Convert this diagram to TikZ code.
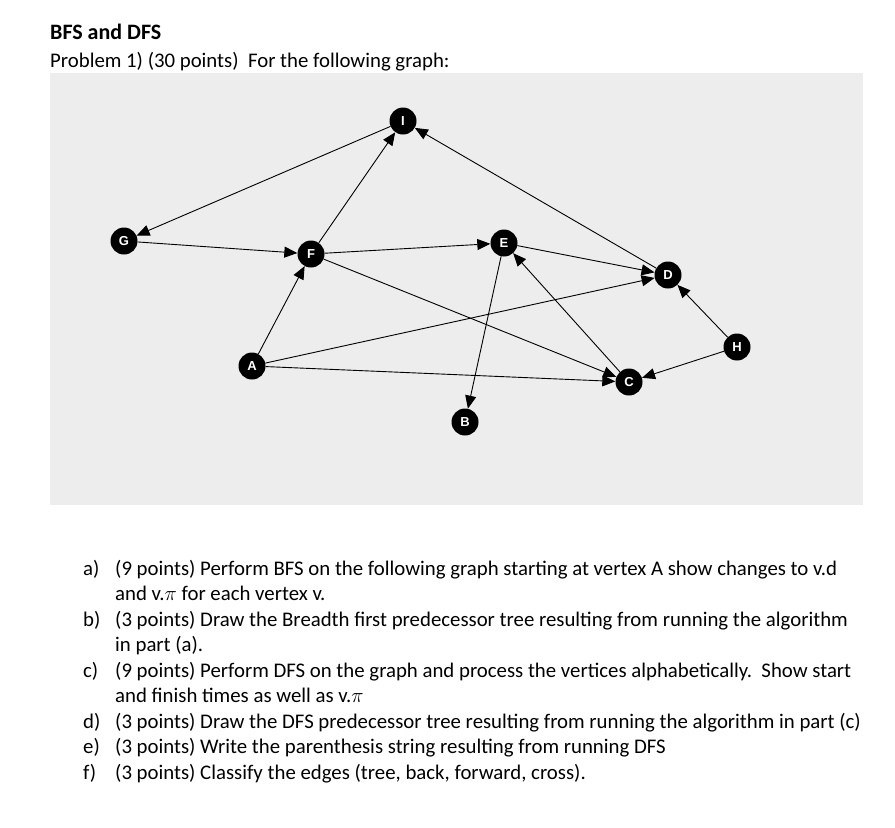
\documentclass[tikz,border=0pt]{standalone}
\usepackage{fontspec}
\setmainfont{Carlito}
\newfontfamily\vfont{Liberation Sans}
\usetikzlibrary{arrows.meta}
\begin{document}
\begin{tikzpicture}[x=1pt,y=-1pt,
  vtx/.style={circle,fill=black,text=white,font=\vfont\bfseries\fontsize{13}{13}\selectfont,minimum size=27pt,inner sep=0pt},
  edge/.style={-{Triangle[length=13pt,width=11pt]},line width=0.9pt},
  txt/.style={anchor=base west,font=\fontsize{20.8}{24}\selectfont,inner sep=0pt}]
\useasboundingbox (0,0) rectangle (895,828);
\fill[white] (0,0) rectangle (895,828);
\fill[black!7] (50,73) rectangle (863,505);
\node[anchor=base west,inner sep=0pt,font=\bfseries\fontsize{22}{26}\selectfont] (title) at (50,39) {BFS and DFS};
\node[txt] (sub) at (50,67) {Problem 1) (30 points)\ \ For the following graph:};
\node[vtx] (I) at (403,121) {I};
\node[vtx] (G) at (124,241) {G};
\node[vtx] (F) at (311,254) {F};
\node[vtx] (E) at (504,243) {E};
\node[vtx] (D) at (668,275) {D};
\node[vtx] (H) at (737,347) {H};
\node[vtx] (A) at (252,366) {A};
\node[vtx] (C) at (629,382) {C};
\node[vtx] (B) at (465,422) {B};
\draw[edge] (I) -- (G);
\draw[edge] (G) -- (F);
\draw[edge] (F) -- (I);
\draw[edge] (D) -- (I);
\draw[edge] (F) -- (E);
\draw[edge] (E) -- (D);
\draw[edge] (F) -- (C);
\draw[edge] (A) -- (F);
\draw[edge] (A) -- (D);
\draw[edge] (A) -- (C);
\draw[edge] (E) -- (B);
\draw[edge] (C) -- (E);
\draw[edge] (H) -- (D);
\draw[edge] (H) -- (C);
\node[txt] (la) at (83,575) {a)}; \node[txt] (ta) at (115,575) {(9 points) Perform BFS on the following graph starting at vertex A show changes to v.d};
\node[txt] (ta2) at (115,600) {and v.$\pi$ for each vertex v.};
\node[txt] (lb) at (83,626) {b)}; \node[txt] (tb) at (115,626) {(3 points) Draw the Breadth first predecessor tree resulting from running the algorithm};
\node[txt] (tb2) at (115,651) {in part (a).};
\node[txt] (lc) at (83,677) {c)}; \node[txt] (tc) at (115,677) {(9 points) Perform DFS on the graph and process the vertices alphabetically.\ \ Show start};
\node[txt] (tc2) at (115,702) {and finish times as well as v.$\pi$};
\node[txt] (ld) at (83,728) {d)}; \node[txt] (td) at (115,728) {(3 points) Draw the DFS predecessor tree resulting from running the algorithm in part (c)};
\node[txt] (le) at (83,753) {e)}; \node[txt] (te) at (115,753) {(3 points) Write the parenthesis string resulting from running DFS};
\node[txt] (lf) at (83,779) {f)}; \node[txt] (tf) at (115,779) {(3 points) Classify the edges (tree, back, forward, cross).};
\end{tikzpicture}
\end{document}
